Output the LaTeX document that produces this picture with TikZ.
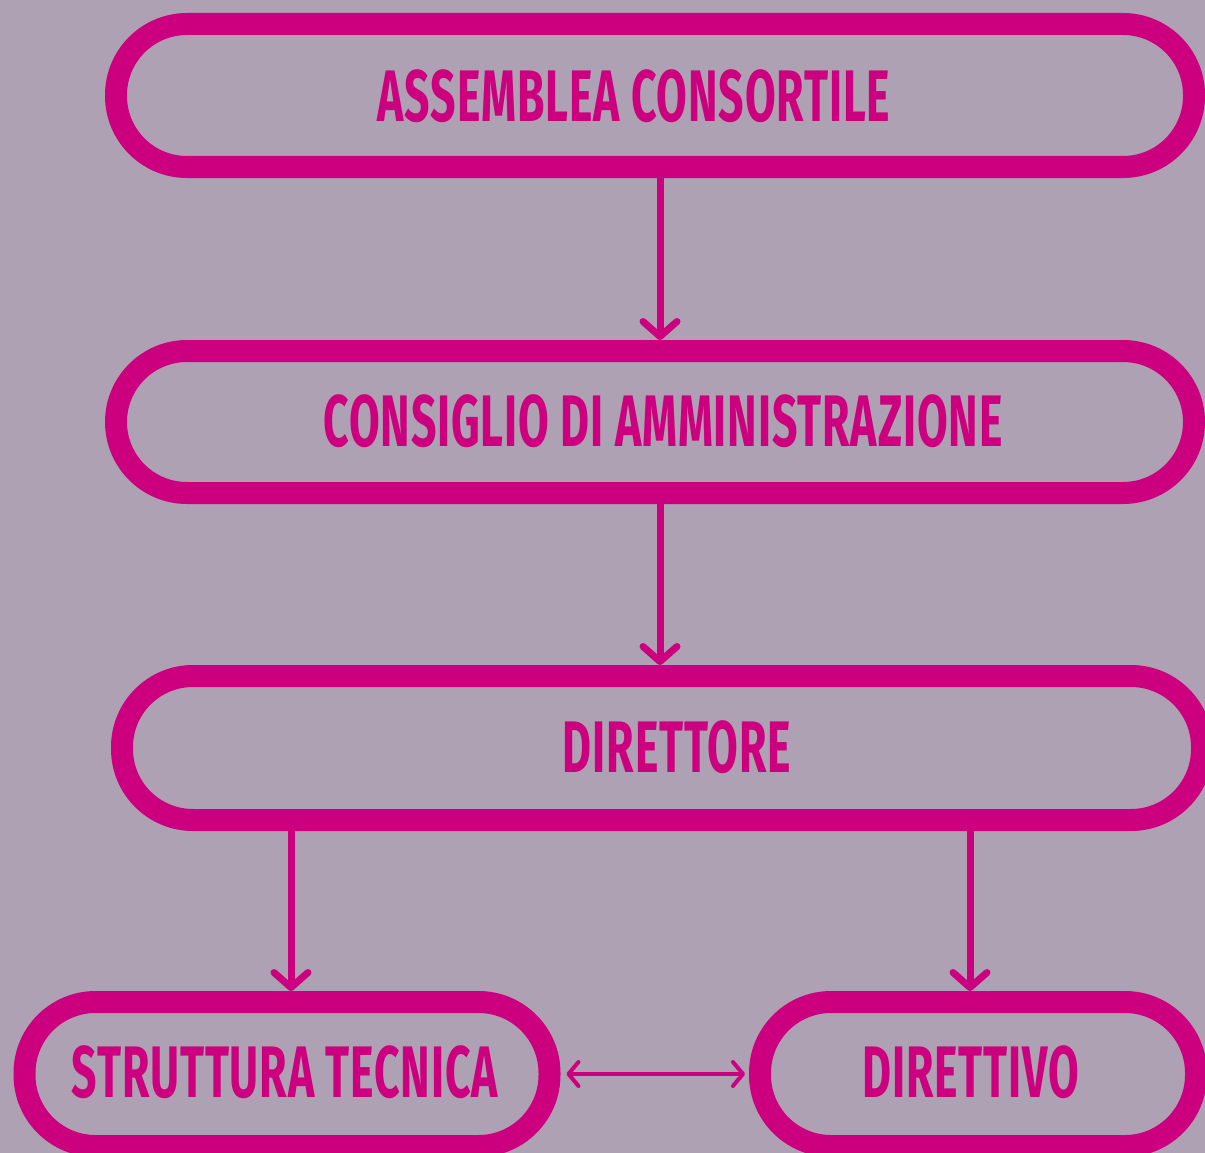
\documentclass[tikz,border=0pt]{standalone}
\usepackage{fontspec}
\newfontfamily\bebas[FakeStretch=0.61, LetterSpace=1.2]{Fira Sans}
\usetikzlibrary{arrows.meta}
\definecolor{mauvebg}{HTML}{AFA1B4}
\definecolor{orgpink}{HTML}{CC007F}

\begin{document}
\begin{tikzpicture}[x=1pt, y=-1pt,
    box/.style={draw=orgpink, line width=22pt, rounded corners=71pt, minimum height=143pt, inner sep=0pt},
    lbl/.style={text=orgpink, inner sep=0pt, font=\bebas\bfseries\fontsize{73}{73}\selectfont},
    arr/.style={draw=orgpink, line width=7pt, line cap=round, -{Straight Barb[length=15pt, width=34pt, round]}},
    link/.style={draw=orgpink, line width=4pt, line cap=round, {Straight Barb[length=10pt, width=24pt, round]}-{Straight Barb[length=10pt, width=24pt, round]}}]
    % Background
    \fill [mauvebg] (0,0) rectangle (1205,1153);
    \useasboundingbox (0,0) rectangle (1205,1153);

    % Boxes
    \node [box, minimum width=1078pt] (assemblea) at (655,95.5) {};
    \node [box, minimum width=1078pt, minimum height=142pt] (consiglio) at (655,422) {};
    \node [box, minimum width=1080pt, minimum height=144pt] (direttore) at (662,748) {};
    \node [box, minimum width=525pt, minimum height=144pt] (struttura) at (287,1074) {};
    \node [box, minimum width=436pt, minimum height=144pt] (direttivo) at (978,1074) {};

    % Labels
    \node [lbl] (assemblea-t) at (634,96) {ASSEMBLEA CONSORTILE};
    \node [lbl] (consiglio-t) at (663,421) {CONSIGLIO DI AMMINISTRAZIONE};
    \node [lbl] (direttore-t) at (677,747) {DIRETTORE};
    \node [lbl] (struttura-t) at (285,1072) {STRUTTURA TECNICA};
    \node [lbl] (direttivo-t) at (971,1072) {DIRETTIVO};

    % Arrows
    \draw [arr] (assemblea.south -| 660,0) -- (consiglio.north -| 660,0);
    \draw [arr] (consiglio.south -| 660,0) -- (direttore.north -| 660,0);
    \draw [arr] (direttore.south -| 291,0) -- (struttura.north -| 291,0);
    \draw [arr] (direttore.south -| 970,0) -- (direttivo.north -| 970,0);
    \draw [link, shorten <=6pt, shorten >=4pt] (struttura.east) -- (direttivo.west);
\end{tikzpicture}
\end{document}
